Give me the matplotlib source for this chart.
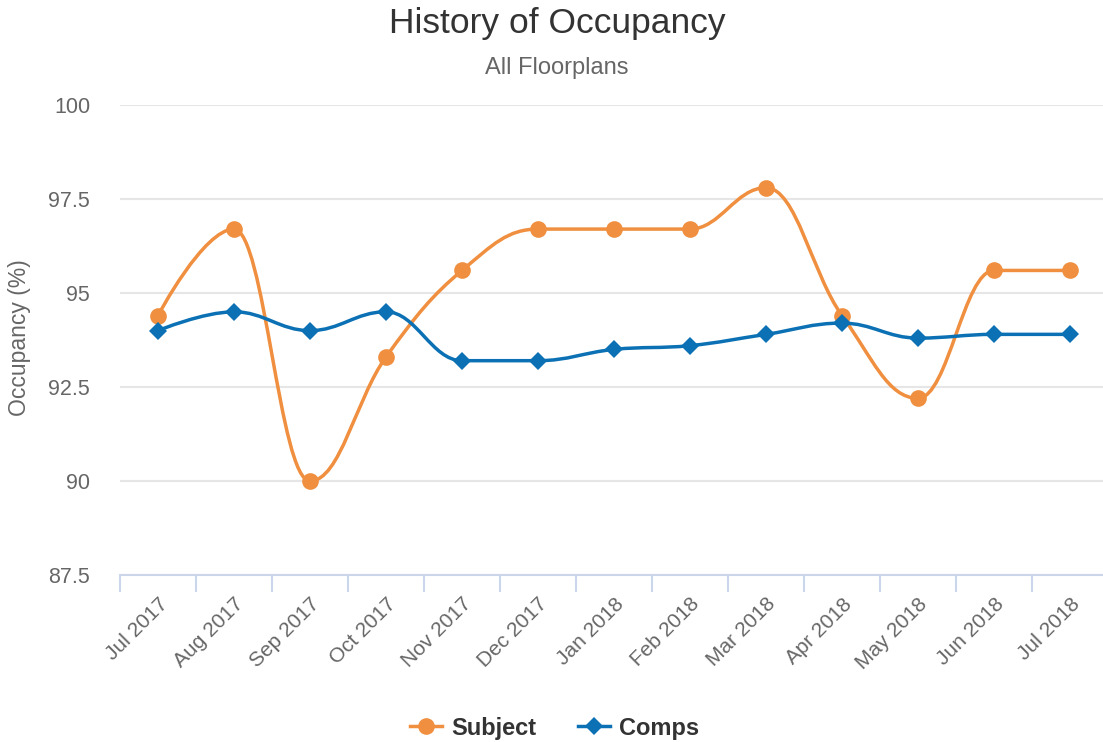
import numpy as np
import matplotlib
matplotlib.use("Agg")
import matplotlib.pyplot as plt
from matplotlib.path import Path
from matplotlib.patches import PathPatch
from matplotlib.lines import Line2D

plt.rcParams['font.family'] = ['Liberation Sans', 'DejaVu Sans']

months = ["Jul 2017", "Aug 2017", "Sep 2017", "Oct 2017", "Nov 2017", "Dec 2017",
          "Jan 2018", "Feb 2018", "Mar 2018", "Apr 2018", "May 2018", "Jun 2018", "Jul 2018"]
subject = [94.4, 96.7, 90.0, 93.3, 95.6, 96.7, 96.7, 96.7, 97.8, 94.4, 92.2, 95.6, 95.6]
comps = [94.0, 94.5, 94.0, 94.5, 93.2, 93.2, 93.5, 93.6, 93.9, 94.2, 93.8, 93.9, 93.9]

orange = '#ef8f3f'
blue = '#0b71b4'


def spline_path(xs, ys, smoothing=1.5):
    # highcharts-style spline control points
    n = len(xs)
    denom = smoothing + 1
    lc = [(xs[i], ys[i]) for i in range(n)]
    rc = [(xs[i], ys[i]) for i in range(n)]
    for i in range(1, n - 1):
        px, py = xs[i], ys[i]
        lx, ly = xs[i - 1], ys[i - 1]
        nx, ny = xs[i + 1], ys[i + 1]
        lcx = (smoothing * px + lx) / denom
        lcy = (smoothing * py + ly) / denom
        rcx = (smoothing * px + nx) / denom
        rcy = (smoothing * py + ny) / denom
        if rcx != lcx:
            corr = (rcy - lcy) * (rcx - px) / (rcx - lcx) + py - rcy
            lcy += corr
            rcy += corr
        if lcy > ly and lcy > py:
            lcy = max(ly, py)
            rcy = 2 * py - lcy
        elif lcy < ly and lcy < py:
            lcy = min(ly, py)
            rcy = 2 * py - lcy
        if rcy > ny and rcy > py:
            rcy = max(ny, py)
            lcy = 2 * py - rcy
        elif rcy < ny and rcy < py:
            rcy = min(ny, py)
            lcy = 2 * py - rcy
        lc[i] = (lcx, lcy)
        rc[i] = (rcx, rcy)
    verts = [(xs[0], ys[0])]
    codes = [Path.MOVETO]
    for i in range(1, n):
        verts += [rc[i - 1], lc[i], (xs[i], ys[i])]
        codes += [Path.CURVE4] * 3
    return Path(verts, codes)


fig = plt.figure(figsize=(11.03, 7.42), dpi=100)
ax = fig.add_axes([120 / 1103, 1 - 575 / 742, 988 / 1103, 470 / 742])

x = np.arange(len(months))
for vals, col, mk, ms in [(subject, orange, 'o', 12), (comps, blue, 'D', 9.5)]:
    ax.add_patch(PathPatch(spline_path(x, vals), facecolor='none', edgecolor=col,
                           lw=2.5, capstyle='round', joinstyle='round', zorder=3))
    ax.plot(x, vals, linestyle='none', marker=mk, markersize=ms, color=col,
            markeredgewidth=0, zorder=4, clip_on=False)

ax.set_xlim(-0.5, len(months) - 0.5)
ax.set_ylim(87.5, 100)
ax.set_yticks([87.5, 90, 92.5, 95, 97.5, 100])
ax.set_yticklabels(['87.5', '90', '92.5', '95', '97.5', '100'])
ax.grid(axis='y', color='#e6e6e6', lw=1.5)
ax.set_axisbelow(True)

for s in ['top', 'right', 'left']:
    ax.spines[s].set_visible(False)
ax.spines['bottom'].set_color('#ccd6eb')
ax.spines['bottom'].set_linewidth(1.5)

ax.set_xticks(x)
ax.set_xticklabels(months, rotation=45, ha='right', va='top', rotation_mode='anchor')
ax.set_xticks(np.arange(-0.5, len(months)), minor=True)
ax.tick_params(axis='x', which='major', length=0, pad=14, labelsize=15, labelcolor='#666666')
ax.tick_params(axis='x', which='minor', length=12, width=1.5, color='#ccd6eb')
ax.tick_params(axis='y', length=0, pad=21.5, labelsize=15.5, labelcolor='#666666')

fig.text(20 / 1103, 1 - 338 / 742, 'Occupancy (%)', rotation=90, ha='center', va='center',
         fontsize=16.5, color='#666666')

fig.text(557 / 1103, 1 - 24 / 742, 'History of Occupancy', ha='center', va='center',
         fontsize=25.5, color='#333333')
fig.text(557 / 1103, 1 - 68 / 742, 'All Floorplans', ha='center', va='center',
         fontsize=17, color='#666666')

handles = [Line2D([], [], color=orange, lw=2.5, marker='o', markersize=12, markeredgewidth=0),
           Line2D([], [], color=blue, lw=2.5, marker='D', markersize=9.5, markeredgewidth=0)]
leg = fig.legend(handles, ['Subject', 'Comps'], loc='center', bbox_to_anchor=(555 / 1103, 1 - 728 / 742),
                 ncol=2, frameon=False, handlelength=1.35, columnspacing=1.75, handletextpad=0.4,
                 prop={'weight': 'bold', 'size': 17})
for t in leg.get_texts():
    t.set_color('#333333')

fig.savefig('out.png', dpi=100)
